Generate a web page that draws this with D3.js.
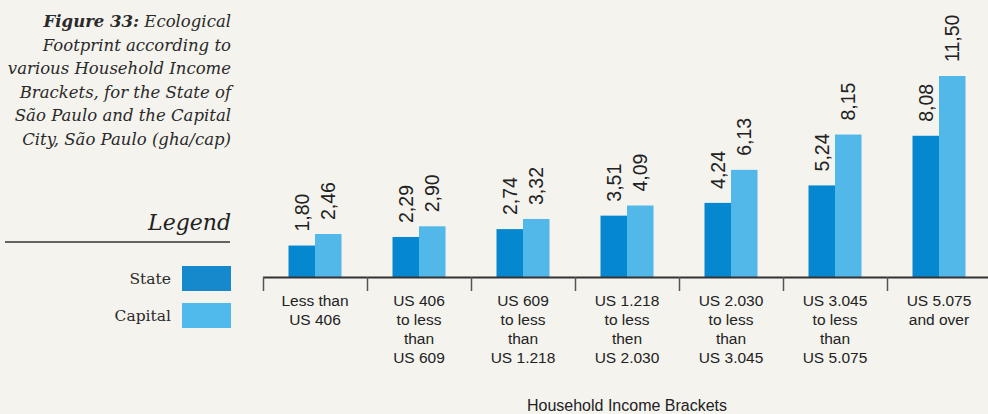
<!DOCTYPE html>
<html>
<head>
<meta charset="utf-8">
<script src="https://cdn.jsdelivr.net/npm/d3@7"></script>
<style>
  html, body { margin: 0; padding: 0; background: #F4F3EE; }
  svg { display: block; }
</style>
</head>
<body>
<svg id="chart" width="988" height="414"></svg>
<script>
// Household income brackets (category labels, one line per array entry)
const brackets = [
  ["Less than", "US 406"],
  ["US 406", "to less", "than", "US 609"],
  ["US 609", "to less", "than", "US 1.218"],
  ["US 1.218", "to less", "then", "US 2.030"],
  ["US 2.030", "to less", "than", "US 3.045"],
  ["US 3.045", "to less", "than", "US 5.075"],
  ["US 5.075", "and over"]
];
// Ecological footprint (gha/cap)
const stateValues   = [1.80, 2.29, 2.74, 3.51, 4.24, 5.24, 8.08];
const capitalValues = [2.46, 2.90, 3.32, 4.09, 6.13, 8.15, 11.50];
const seriesNames = ["State", "Capital"];
const seriesColors = ["#0588CF", "#51B8E9"];
const legendColors = ["#1589CB", "#4FBAEB"];
const titleLines = [
  [["Figure 33:", true], [" Ecological", false]],
  [["Footprint according to", false]],
  [["various Household Income", false]],
  [["Brackets, for the State of", false]],
  [["São Paulo and the Capital", false]],
  [["City, São Paulo (gha/cap)", false]]
];
const xTitle = "Household Income Brackets";

const svg = d3.select("#chart");
svg.append("rect").attr("width", 988).attr("height", 414).attr("fill", "#F4F3EE");

const baseY = 277;
const x = d3.scaleBand().domain(d3.range(brackets.length)).range([263, 991]).padding(0);
const y = d3.scaleLinear().domain([0, 11.5]).range([baseY, 76]);
const inner = d3.scaleBand().domain([0, 1]).range([0, 53]);
const groupOffset = (x.bandwidth() - 53) / 2;

const data = stateValues.map((v, i) => ({ i, values: [v, capitalValues[i]] }));

const groups = svg.append("g").selectAll("g")
  .data(data).join("g")
  .attr("transform", d => `translate(${x(d.i) + groupOffset},0)`);

groups.selectAll("rect")
  .data(d => d.values.map((v, s) => ({ v, s })))
  .join("rect")
  .attr("x", d => inner(d.s))
  .attr("y", d => y(d.v))
  .attr("width", inner.bandwidth())
  .attr("height", d => baseY - y(d.v))
  .attr("fill", d => seriesColors[d.s]);

const fmt = v => v.toFixed(2).replace(".", ",");
groups.selectAll("text.val")
  .data(d => d.values.map((v, s) => ({ v, s })))
  .join("text")
  .attr("class", "val")
  .attr("transform", d => `translate(${inner(d.s) + inner.bandwidth() / 2 + 7},${y(d.v) - 14}) rotate(-90)`)
  .attr("font-family", "Liberation Sans, Arial, sans-serif")
  .attr("font-size", 19.5)
  .attr("fill", "#222")
  .text(d => fmt(d.v));

// x axis: baseline with ticks at band boundaries
const axis = svg.append("g");
axis.append("line")
  .attr("x1", 263).attr("x2", 988)
  .attr("y1", baseY + 0.5).attr("y2", baseY + 0.5)
  .attr("stroke", "#333").attr("stroke-width", 2);
axis.selectAll("line.tick")
  .data(d3.range(brackets.length))
  .join("line")
  .attr("class", "tick")
  .attr("x1", i => x(i) + 0.5).attr("x2", i => x(i) + 0.5)
  .attr("y1", baseY).attr("y2", 291)
  .attr("stroke", "#555").attr("stroke-width", 1.5);

const catText = axis.selectAll("text.cat")
  .data(brackets.map((lines, i) => ({ lines, i })))
  .join("text")
  .attr("class", "cat")
  .attr("text-anchor", "middle")
  .attr("font-family", "Liberation Sans, Arial, sans-serif")
  .attr("font-size", 15.5)
  .attr("fill", "#222");
catText.selectAll("tspan")
  .data(d => d.lines.map((t, k) => ({ t, k, cx: x(d.i) + x.bandwidth() / 2 })))
  .join("tspan")
  .attr("x", d => d.cx)
  .attr("y", d => 306 + d.k * 19)
  .text(d => d.t);

svg.append("text")
  .attr("x", (263 + 991) / 2).attr("y", 411)
  .attr("text-anchor", "middle")
  .attr("font-family", "Liberation Sans, Arial, sans-serif")
  .attr("font-size", 16)
  .attr("fill", "#222")
  .text(xTitle);

// figure title, right-aligned at left
const title = svg.append("text")
  .attr("text-anchor", "end")
  .attr("font-family", "DejaVu Serif, serif")
  .attr("font-style", "italic")
  .attr("font-size", 16.5)
  .attr("fill", "#2a2a2a");
titleLines.forEach((parts, li) => {
  parts.forEach((p, pi) => {
    const ts = title.append("tspan").text(p[0]).attr("font-weight", p[1] ? "bold" : "normal");
    if (pi === 0) ts.attr("x", 231).attr("y", 27 + li * 23.6);
  });
});

// legend
svg.append("text")
  .attr("x", 231).attr("y", 230)
  .attr("text-anchor", "end")
  .attr("font-family", "DejaVu Serif, serif")
  .attr("font-style", "italic")
  .attr("font-size", 22)
  .attr("fill", "#222")
  .text("Legend");
svg.append("line")
  .attr("x1", 5).attr("x2", 230).attr("y1", 242).attr("y2", 242)
  .attr("stroke", "#333").attr("stroke-width", 1.5);

const leg = svg.append("g").selectAll("g")
  .data(seriesNames).join("g")
  .attr("transform", (d, i) => `translate(0,${266 + i * 37})`);
leg.append("rect")
  .attr("x", 182).attr("width", 49).attr("height", 25)
  .attr("fill", (d, i) => legendColors[i]);
leg.append("text")
  .attr("x", 171).attr("y", 18)
  .attr("text-anchor", "end")
  .attr("font-family", "DejaVu Serif, serif")
  .attr("font-size", 15.5)
  .attr("fill", "#2a2a2a")
  .text(d => d);
</script>
</body>
</html>
